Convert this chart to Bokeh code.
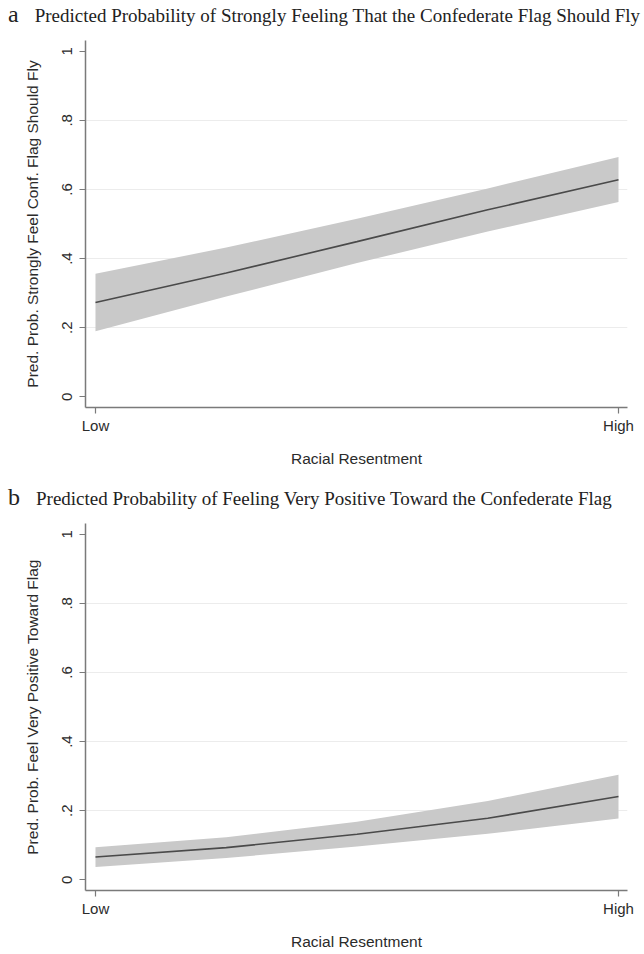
from bokeh.plotting import figure
from bokeh.models import Range1d, FixedTicker, Div
from bokeh.layouts import column
from bokeh.embed import file_html
from bokeh.resources import INLINE

# ---- data ----
x_vals = [0.0, 0.25, 0.5, 0.75, 1.0]

a_mean = [0.273, 0.358, 0.449, 0.541, 0.628]
a_lower = [0.190, 0.290, 0.387, 0.478, 0.564]
a_upper = [0.356, 0.432, 0.515, 0.603, 0.694]

b_mean = [0.066, 0.093, 0.132, 0.178, 0.241]
b_lower = [0.037, 0.063, 0.096, 0.133, 0.177]
b_upper = [0.094, 0.123, 0.168, 0.228, 0.304]

x_ticks = [0, 1]
x_tick_labels = ["Low", "High"]
y_ticks = [0, 0.2, 0.4, 0.6, 0.8, 1]
y_tick_labels = ["0", ".2", ".4", ".6", ".8", "1"]
grid_ticks = [0.2, 0.4, 0.6, 0.8]

x_title = "Racial Resentment"
a_letter = "a"
a_title = "Predicted Probability of Strongly Feeling That the Confederate Flag Should Fly"
a_ylabel = "Pred. Prob. Strongly Feel Conf. Flag Should Fly"
b_letter = "b"
b_title = "Predicted Probability of Feeling Very Positive Toward the Confederate Flag"
b_ylabel = "Pred. Prob. Feel Very Positive Toward Flag"

SANS = "Liberation Sans"
SERIF = "Liberation Serif"
TXT = "#2b2b2b"
AX = "#7a7a7a"
TITLE_H = 28


def make_title(letter, title):
    html = (f'<span style="font-size:24px;margin-right:16px">{letter}</span>'
            f'<span>{title}</span>')
    return Div(text=html, width=644, height=TITLE_H,
               styles={"font-family": SERIF, "font-size": "19px", "color": "#222222",
                       "line-height": f"{TITLE_H}px", "white-space": "nowrap",
                       "padding-left": "8px", "margin": "0", "overflow": "visible"})


def make_panel(ylabel, mean, lower, upper, height, bottom):
    p = figure(width=644, height=height, output_backend="svg", toolbar_location=None,
               x_range=Range1d(-0.0191, 1.0172), y_range=Range1d(-0.031, 1.031),
               min_border_left=85, min_border_right=17, min_border_top=12,
               min_border_bottom=bottom)
    p.outline_line_color = None
    p.background_fill_color = "white"
    p.border_fill_color = "white"

    p.varea(x=x_vals, y1=lower, y2=upper, fill_color="#c9c9c9", fill_alpha=1.0)
    p.line(x=x_vals, y=mean, line_color="#4a4a4a", line_width=1.6)

    # axes
    p.xaxis.ticker = FixedTicker(ticks=x_ticks)
    p.xaxis.major_label_overrides = {t: l for t, l in zip(x_ticks, x_tick_labels)}
    p.yaxis.ticker = FixedTicker(ticks=y_ticks)
    p.yaxis.major_label_overrides = {t: l for t, l in zip(y_ticks, y_tick_labels)}
    p.yaxis.major_label_orientation = "parallel"

    for ax in (p.xaxis[0], p.yaxis[0]):
        ax.axis_line_color = AX
        ax.axis_line_width = 1.5
        ax.major_tick_line_color = AX
        ax.major_tick_line_width = 1.2
        ax.major_tick_out = 6
        ax.major_tick_in = 0
        ax.minor_tick_line_color = None
        ax.major_label_text_font = SANS
        ax.major_label_text_font_size = "15px"
        ax.major_label_text_color = TXT
        ax.axis_label_text_font = SANS
        ax.axis_label_text_font_size = "15.5px"
        ax.axis_label_text_font_style = "normal"
        ax.axis_label_text_color = TXT

    p.xaxis.axis_label = x_title
    p.xaxis.major_label_standoff = 3
    p.xaxis.axis_label_standoff = 13
    p.yaxis.axis_label = ylabel
    p.yaxis.major_label_standoff = 7
    p.yaxis.axis_label_standoff = 19

    p.xgrid.visible = False
    p.ygrid.ticker = FixedTicker(ticks=grid_ticks)
    p.ygrid.grid_line_color = "#ececec"
    p.ygrid.grid_line_width = 1
    return p


ta = make_title(a_letter, a_title)
pa = make_panel(a_ylabel, a_mean, a_lower, a_upper, 483 - TITLE_H, 76)
tb = make_title(b_letter, b_title)
pb = make_panel(b_ylabel, b_mean, b_lower, b_upper, 471 - TITLE_H, 64)

layout = column(ta, pa, tb, pb, spacing=0)
open("out.html", "w").write(file_html(layout, INLINE))
